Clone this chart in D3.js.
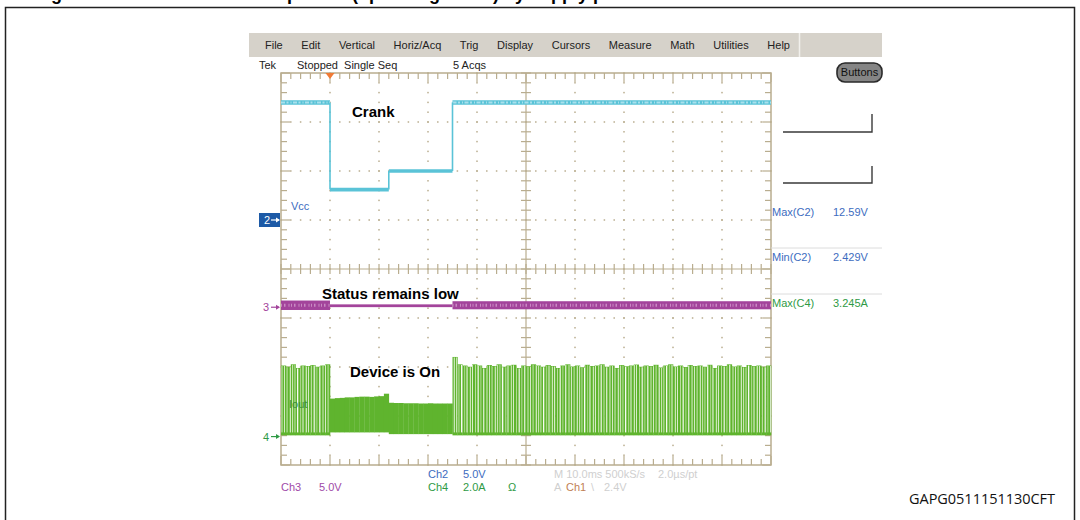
<!DOCTYPE html>
<html>
<head>
<meta charset="utf-8">
<script src="https://cdn.jsdelivr.net/npm/d3@7"></script>
<style>
  html, body { margin: 0; padding: 0; background: #fff; }
  svg { display: block; }
  .scope { font-family: "Liberation Sans", Arial, sans-serif; font-size: 11px; }
  .note { font-family: "Liberation Sans", Arial, sans-serif; font-weight: bold; font-size: 15px; fill: #000; }
</style>
</head>
<body>
<svg id="chart" width="1080" height="520"></svg>
<script>
// ---- scope setup -------------------------------------------------------
const timePerDivMs = 10;
const horizDivs = 10;
const vertDivs = 8;
const triggerTimeMs = 10;

const menuItems = ["File", "Edit", "Vertical", "Horiz/Acq", "Trig", "Display",
                   "Cursors", "Measure", "Math", "Utilities", "Help"];
const statusItems = ["Tek", "Stopped  Single Seq", "5 Acqs"];

// Channel 2: Vcc (5 V/div), crank profile as level segments
const vccSegStartMs = [0, 10, 22, 35];
const vccSegEndMs   = [10, 22, 35, 100];
const vccLevelV     = [12.0, 3.1, 5.0, 12.0];

// Channel 3: Status (5 V/div), level and ripple half-width per segment
const statusSegStartMs = [0, 10, 35];
const statusSegEndMs   = [10, 35, 100];
const statusLevelV     = [0.2, 0.15, 0.2];
const statusRippleV    = [0.4, 0.06, 0.33];

// Channel 4: Iout (2 A/div), PWM peak current per 1 ms bin
const ioutPwmPre = [2.9, 2.85, 2.95, 2.8, 2.9, 2.88, 2.92, 2.85, 2.9, 2.95];   // 0..10 ms
const ioutPwmPost = [3.25, 2.95, 2.9, 2.85, 2.95, 2.9, 2.8, 2.92, 2.88, 2.95,
  2.85, 2.9, 2.93, 2.8, 2.9, 2.87, 2.95, 2.9, 2.85, 2.92,
  2.88, 2.8, 2.9, 2.95, 2.86, 2.9, 2.83, 2.93, 2.88, 2.9,
  2.95, 2.85, 2.9, 2.8, 2.92, 2.87, 2.9, 2.94, 2.85, 2.9,
  2.88, 2.93, 2.82, 2.9, 2.95, 2.86, 2.9, 2.84, 2.92, 2.88,
  2.9, 2.85, 2.93, 2.8, 2.9, 2.88, 2.95, 2.86, 2.9, 2.84,
  2.92, 2.88, 2.9, 2.85, 2.9];                                                  // 35..100 ms
const ioutPwmPostStartMs = 35;
// Iout during crank: upper edge per 1 ms bin, and floor per phase
const ioutCrankTop = [1.55, 1.57, 1.58, 1.6, 1.6, 1.62, 1.63, 1.63, 1.62, 1.64, 1.65, 1.75,
  1.38, 1.37, 1.37, 1.36, 1.36, 1.36, 1.35, 1.35, 1.36, 1.35, 1.35, 1.35, 1.35];
const ioutCrankStartMs = 10;
const ioutCrankFloor = [0.17, 0.1];
const ioutCrankPhaseSplitMs = 22;

// Measurements
const measLabels = ["Max(C2)", "Min(C2)", "Max(C4)"];
const measValues = ["12.59V", "2.429V", "3.245A"];

// ---- layout ------------------------------------------------------------
const svg = d3.select("#chart");
const gx0 = 281, gx1 = 771, gy0 = 73, gy1 = 465;
const x = d3.scaleLinear().domain([0, horizDivs * timePerDivMs]).range([gx0, gx1]);
const yDiv = d3.scaleLinear().domain([-vertDivs / 2, vertDivs / 2]).range([gy1, gy0]);

// per channel: units/div and ground offset in divisions
function channelScale(perDiv, offsetDiv) {
  return d3.scaleLinear()
    .domain([(-vertDivs / 2 - offsetDiv) * perDiv, (vertDivs / 2 - offsetDiv) * perDiv])
    .range([gy1, gy0]);
}
const yVcc = channelScale(5, 1.0);
const yStatus = channelScale(5, -0.78);
const yIout = channelScale(2, -3.42);

const colVcc = "#5ac3d7", colStatus = "#a3449b", colIout = "#5fb42e";
const grat = "#b9ad8f";

// page frame and figure title
svg.append("rect").attr("x", 5.5).attr("y", 7.5).attr("width", 1069).attr("height", 540)
  .attr("fill", "none").attr("stroke", "#222").attr("stroke-width", 1.5);
svg.append("text").attr("x", 35).attr("y", 0)
  .attr("font-family", "Liberation Sans, Arial, sans-serif").attr("font-weight", "bold")
  .attr("font-size", 18).attr("fill", "#000")
  .text("Figure 47. Crank test with output ON (operating mode) by supply profile");

// menu bar
svg.append("rect").attr("x", 249).attr("y", 33).attr("width", 633).attr("height", 24).attr("fill", "#d6d2ca");
svg.append("line").attr("x1", 799.5).attr("x2", 799.5).attr("y1", 33).attr("y2", 57)
  .attr("stroke", "#f2f0ec").attr("stroke-width", 1.5);
let mx = 265;
menuItems.forEach(m => {
  const t = svg.append("text").attr("class", "scope").attr("x", mx).attr("y", 49).attr("fill", "#222").text(m);
  mx += t.node().getComputedTextLength() + 18.6;
});

// status row
const statusX = [259, 297, 453];
statusItems.forEach((s, i) => {
  svg.append("text").attr("class", "scope").attr("x", statusX[i]).attr("y", 69)
    .attr("fill", "#222").style("white-space", "pre").text(s);
});

// Buttons pill
svg.append("rect").attr("x", 837).attr("y", 63).attr("width", 45).attr("height", 19).attr("rx", 8)
  .attr("fill", "#858585").attr("stroke", "#2a2a2a").attr("stroke-width", 1.6);
svg.append("text").attr("class", "scope").attr("x", 859.5).attr("y", 76).attr("text-anchor", "middle")
  .attr("font-size", 10.5).attr("fill", "#111").text("Buttons");

// ---- graticule ---------------------------------------------------------
const g = svg.append("g");
const minor = d3.range(0, horizDivs * 5 + 1).map(i => i / 5);   // in divisions
const minorV = d3.range(0, vertDivs * 5 + 1).map(i => i / 5 - vertDivs / 2);
const xd = d => gx0 + d * (gx1 - gx0) / horizDivs;

// dotted grid
d3.range(1, horizDivs).filter(d => d !== horizDivs / 2).forEach(d => {
  minorV.forEach(v => g.append("rect").attr("x", xd(d) - 0.75).attr("y", yDiv(v) - 0.75)
    .attr("width", 1.5).attr("height", 1.5).attr("fill", grat));
});
d3.range(-vertDivs / 2 + 1, vertDivs / 2).filter(v => v !== 0).forEach(v => {
  minor.forEach(d => g.append("rect").attr("x", xd(d) - 0.75).attr("y", yDiv(v) - 0.75)
    .attr("width", 1.5).attr("height", 1.5).attr("fill", grat));
});
// frame
g.append("rect").attr("x", gx0).attr("y", gy0).attr("width", gx1 - gx0).attr("height", gy1 - gy0)
  .attr("fill", "none").attr("stroke", grat).attr("stroke-width", 1.5);
// edge and centre ticks
minor.forEach((d, i) => {
  const len = i % 5 === 0 ? 9 : 6;
  g.append("line").attr("x1", xd(d)).attr("x2", xd(d)).attr("y1", gy0).attr("y2", gy0 + len).attr("stroke", grat).attr("stroke-width", 1.2);
  g.append("line").attr("x1", xd(d)).attr("x2", xd(d)).attr("y1", gy1).attr("y2", gy1 - len).attr("stroke", grat).attr("stroke-width", 1.2);
  g.append("line").attr("x1", xd(d)).attr("x2", xd(d)).attr("y1", yDiv(0) - 5).attr("y2", yDiv(0) + 5).attr("stroke", grat).attr("stroke-width", 1.2);
});
minorV.forEach((v, i) => {
  const len = i % 5 === 0 ? 9 : 6;
  g.append("line").attr("y1", yDiv(v)).attr("y2", yDiv(v)).attr("x1", gx0).attr("x2", gx0 + len).attr("stroke", grat).attr("stroke-width", 1.2);
  g.append("line").attr("y1", yDiv(v)).attr("y2", yDiv(v)).attr("x1", gx1).attr("x2", gx1 - len).attr("stroke", grat).attr("stroke-width", 1.2);
  g.append("line").attr("y1", yDiv(v)).attr("y2", yDiv(v)).attr("x1", xd(5) - 5).attr("x2", xd(5) + 5).attr("stroke", grat).attr("stroke-width", 1.2);
});
// centre cross
g.append("line").attr("x1", xd(5)).attr("x2", xd(5)).attr("y1", gy0).attr("y2", gy1).attr("stroke", grat).attr("stroke-width", 1.2);
g.append("line").attr("x1", gx0).attr("x2", gx1).attr("y1", yDiv(0)).attr("y2", yDiv(0)).attr("stroke", grat).attr("stroke-width", 1.2);

// trigger marker
const tx = x(triggerTimeMs);
svg.append("path").attr("d", `M${tx - 4.5},${gy0} L${tx + 4.5},${gy0} L${tx},${gy0 + 6} Z`).attr("fill", "#f07a35");

// ---- Ch4: Iout ---------------------------------------------------------
const defs = svg.append("defs");
const pat = defs.append("pattern").attr("id", "pwmGaps").attr("patternUnits", "userSpaceOnUse")
  .attr("width", 41).attr("height", 10).attr("x", gx0);
[[0.5, 1, "#cfe9bd"], [3.2, 0.8, "#eef7e7"], [5.5, 1.2, "#b4db98"], [8.8, 0.9, "#f4faef"],
 [11, 1.1, "#c6e5b0"], [13.6, 0.7, "#e2f2d7"], [16, 1.3, "#f6fbf2"], [19.3, 0.8, "#bde0a4"],
 [21.5, 1, "#e9f5e1"], [24.8, 1.2, "#cae7b5"], [27.2, 0.8, "#f3f9ee"], [30, 1, "#b8dd9d"],
 [32.6, 1.2, "#edf7e6"], [35.5, 0.8, "#c3e4ab"], [38.2, 1.1, "#f1f8ec"]].forEach(([px, w, c]) => {
  pat.append("rect").attr("x", px).attr("y", 0).attr("width", w).attr("height", 10).attr("fill", c);
});

const pwmBins = ioutPwmPre.map((p, i) => ({ t: i, peak: p }))
  .concat(ioutPwmPost.map((p, i) => ({ t: ioutPwmPostStartMs + i, peak: p })));
const iout = svg.append("g");
iout.selectAll("rect.pwm").data(pwmBins).join("rect").attr("class", "pwm")
  .attr("x", d => x(d.t)).attr("width", d => x(d.t + 1) - x(d.t) + 0.3)
  .attr("y", d => yIout(d.peak)).attr("height", d => yIout(0.05) - yIout(d.peak))
  .attr("fill", colIout);
iout.selectAll("rect.gap").data(pwmBins).join("rect").attr("class", "gap")
  .attr("x", d => x(d.t)).attr("width", d => x(d.t + 1) - x(d.t) + 0.3)
  .attr("y", d => yIout(d.peak) + 0.5).attr("height", d => yIout(0.17) - yIout(d.peak) - 0.5)
  .attr("fill", "url(#pwmGaps)");
const crankBins = ioutCrankTop.map((top, i) => {
  const t = ioutCrankStartMs + i;
  return { t, top, floor: t < ioutCrankPhaseSplitMs ? ioutCrankFloor[0] : ioutCrankFloor[1] };
});
iout.selectAll("rect.crank").data(crankBins).join("rect").attr("class", "crank")
  .attr("x", d => x(d.t)).attr("width", d => x(d.t + 1) - x(d.t) + 0.3)
  .attr("y", d => yIout(d.top)).attr("height", d => yIout(d.floor) - yIout(d.top))
  .attr("fill", colIout);
svg.append("text").attr("class", "scope").attr("x", 289).attr("y", 408).attr("font-size", 10.5)
  .attr("fill", "#3e8f3a").text("Iout");

// ---- Ch3: Status -------------------------------------------------------
const status = svg.append("g");
statusSegStartMs.forEach((t0, i) => {
  const t1 = statusSegEndMs[i], v = statusLevelV[i], r = statusRippleV[i];
  status.append("rect").attr("x", x(t0)).attr("width", x(t1) - x(t0))
    .attr("y", yStatus(v + r) - 0.8).attr("height", Math.max(1.8, yStatus(v - r) - yStatus(v + r) + 1.6))
    .attr("fill", colStatus);
  if (r > 0.1) {
    status.append("line").attr("x1", x(t0)).attr("x2", x(t1)).attr("y1", yStatus(v)).attr("y2", yStatus(v))
      .attr("stroke", "#c98ac3").attr("stroke-width", 3).attr("stroke-dasharray", "1 2 1.5 3 1 1.5");
  }
});

// ---- Ch2: Vcc ----------------------------------------------------------
const vcc = svg.append("g");
vccSegStartMs.forEach((t0, i) => {
  const t1 = vccSegEndMs[i], v = vccLevelV[i];
  const w = v > 10 ? 4.5 : 3.6;
  vcc.append("line").attr("x1", x(t0)).attr("x2", x(t1)).attr("y1", yVcc(v)).attr("y2", yVcc(v))
    .attr("stroke", colVcc).attr("stroke-width", w);
  if (v > 10) {
    vcc.append("line").attr("x1", x(t0)).attr("x2", x(t1)).attr("y1", yVcc(v)).attr("y2", yVcc(v))
      .attr("stroke", "#a9e0ec").attr("stroke-width", 2).attr("stroke-dasharray", "4 1.5 2 2 1 1.5");
  }
  if (i > 0) {
    const vp = vccLevelV[i - 1];
    vcc.append("line").attr("x1", x(t0)).attr("x2", x(t0)).attr("y1", yVcc(vp)).attr("y2", yVcc(v))
      .attr("stroke", colVcc).attr("stroke-width", 1.6);
  }
});
svg.append("text").attr("class", "scope").attr("x", 291).attr("y", 210).attr("font-size", 10.5)
  .attr("fill", "#3d6cc0").text("Vcc");

// ---- channel ground markers --------------------------------------------
svg.append("rect").attr("x", 259).attr("y", yVcc(0) - 7).attr("width", 21).attr("height", 14).attr("fill", "#1d5aa6");
svg.append("text").attr("class", "scope").attr("x", 264).attr("y", yVcc(0) + 4).attr("fill", "#fff").text("2");
svg.append("path").attr("d", `M271,${yVcc(0)} L279,${yVcc(0)}`).attr("stroke", "#fff").attr("stroke-width", 1.2);
svg.append("path").attr("d", `M276,${yVcc(0) - 2.5} L280,${yVcc(0)} L276,${yVcc(0) + 2.5}Z`).attr("fill", "#fff");
[[yStatus(0), "3", "#a3449b"], [yIout(0), "4", "#2f9a45"]].forEach(([yy, lbl, c]) => {
  svg.append("text").attr("class", "scope").attr("x", 263).attr("y", yy + 4).attr("fill", c).text(lbl);
  svg.append("path").attr("d", `M271,${yy} L279,${yy}`).attr("stroke", c).attr("stroke-width", 1.2);
  svg.append("path").attr("d", `M276,${yy - 2.5} L280,${yy} L276,${yy + 2.5}Z`).attr("fill", c);
});

// ---- annotations -------------------------------------------------------
svg.append("text").attr("class", "note").attr("x", 352).attr("y", 117).text("Crank");
svg.append("text").attr("class", "note").attr("x", 322).attr("y", 299).text("Status remains low");
svg.append("text").attr("class", "note").attr("x", 350).attr("y", 377).text("Device is On");

// ---- right panel: cursor brackets and measurements ---------------------
[[114, 132], [166, 183]].forEach(([ya, yb]) => {
  svg.append("path").attr("d", `M783,${yb} L872,${yb} L872,${ya}`).attr("fill", "none")
    .attr("stroke", "#3a3a3a").attr("stroke-width", 1.4);
});
[248, 294].forEach(yy => svg.append("line").attr("x1", 771).attr("x2", 882).attr("y1", yy).attr("y2", yy)
  .attr("stroke", "#dcdcdc").attr("stroke-width", 1));
measLabels.forEach((m, i) => {
  const c = i < 2 ? "#3d6cc0" : "#2f9a45";
  const yy = [216, 261, 307][i];
  svg.append("text").attr("class", "scope").attr("x", 772).attr("y", yy).attr("fill", c).text(m);
  svg.append("text").attr("class", "scope").attr("x", 833).attr("y", yy).attr("fill", c).text(measValues[i]);
});

// ---- bottom readouts ---------------------------------------------------
const readouts = [
  ["Ch2", 428, 478, "#3d6cc0"], ["5.0V", 463, 478, "#3d6cc0"],
  ["M 10.0ms 500kS/s", 554, 478, "#cfcfcf"], ["2.0\u00b5s/pt", 658, 478, "#cfcfcf"],
  ["Ch3", 281, 491, "#a04aa8"], ["5.0V", 319, 491, "#a04aa8"],
  ["Ch4", 428, 491, "#2f9a45"], ["2.0A", 463, 491, "#2f9a45"], ["\u03a9", 508, 491, "#2f9a45"],
  ["A", 554, 491, "#cfcfcf"], ["Ch1", 566, 491, "#bf7f55"], ["\\", 591, 491, "#cfcfcf"], ["2.4V", 604, 491, "#cfcfcf"]
];
readouts.forEach(([s, xx, yy, c]) => {
  svg.append("text").attr("class", "scope").attr("x", xx).attr("y", yy).attr("fill", c).text(s);
});

svg.append("text").attr("x", 909).attr("y", 504)
  .attr("font-family", "Open Sans, Liberation Sans, sans-serif").attr("font-size", 14.5)
  .attr("textLength", 146).attr("fill", "#111").text("GAPG0511151130CFT");
</script>
</body>
</html>
